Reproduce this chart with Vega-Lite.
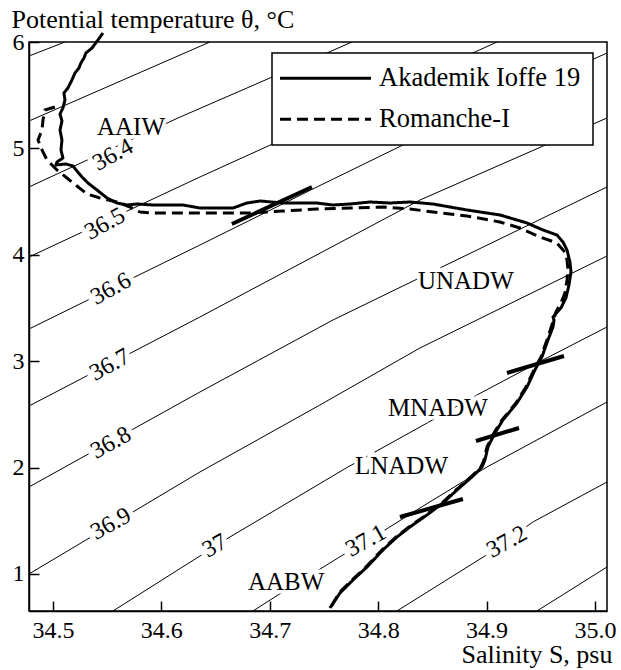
{
"$schema":"https://vega.github.io/schema/vega-lite/v6.json",
"width":578,"height":569,
"autosize":{"type":"none"},
"padding":{"left":29,"top":42,"right":14,"bottom":59},
"background":"white",
"config":{"font":"Liberation Serif","view":{"stroke":"black","strokeWidth":1.5},
"axis":{"grid":false,"domainColor":"black","domainWidth":1.5,"tickColor":"black","tickWidth":1.5,"tickSize":-10,"labelColor":"black","labelFontSize":24,"labelFont":"Liberation Serif","titleFont":"Liberation Serif","titleFontSize":26,"titleFontWeight":"normal","titleColor":"black"}},
"datasets":{
"iso":[
{"s":"36.2","S":34.4779,"T":5.8684},{"s":"36.2","S":34.5111,"T":6.0},
{"s":"36.3","S":34.4779,"T":5.2575},{"s":"36.3","S":34.6448,"T":6.0},
{"s":"36.4","S":34.4779,"T":4.6372},{"s":"36.4","S":34.6153,"T":5.2857},{"s":"36.4","S":34.7002,"T":5.6617},{"s":"36.4","S":34.7758,"T":6.0},
{"s":"36.5","S":34.4779,"T":3.9793},{"s":"36.5","S":34.6356,"T":4.7312},{"s":"36.5","S":34.9096,"T":6.0},
{"s":"36.6","S":34.4779,"T":3.3026},{"s":"36.6","S":34.6356,"T":4.0921},{"s":"36.6","S":34.7435,"T":4.6372},{"s":"36.6","S":34.8229,"T":5.032},{"s":"36.6","S":35.0111,"T":5.8966},
{"s":"36.7","S":34.4779,"T":2.5789},{"s":"36.7","S":34.6356,"T":3.4154},{"s":"36.7","S":34.8386,"T":4.515},{"s":"36.7","S":35.0111,"T":5.2857},
{"s":"36.8","S":34.4779,"T":1.8177},{"s":"36.8","S":34.6356,"T":2.7105},{"s":"36.8","S":34.7583,"T":3.3872},{"s":"36.8","S":34.857,"T":3.8759},{"s":"36.8","S":35.0111,"T":4.6372},
{"s":"36.9","S":34.4779,"T":1.0},{"s":"36.9","S":34.6356,"T":1.9586},{"s":"36.9","S":34.7463,"T":2.5883},{"s":"36.9","S":34.8386,"T":3.1241},{"s":"36.9","S":35.0111,"T":3.9887},
{"s":"37","S":34.5554,"T":0.652},{"s":"37","S":34.6633,"T":1.3477},{"s":"37","S":34.7721,"T":2.0056},{"s":"37","S":34.8386,"T":2.3816},{"s":"37","S":34.8911,"T":2.6823},{"s":"37","S":34.952,"T":3.0113},{"s":"37","S":35.0111,"T":3.3214},
{"s":"37.1","S":34.6845,"T":0.652},{"s":"37.1","S":34.7076,"T":0.8026},{"s":"37.1","S":34.7675,"T":1.1786},{"s":"37.1","S":34.8063,"T":1.4135},{"s":"37.1","S":34.8386,"T":1.6203},{"s":"37.1","S":34.9004,"T":2.0056},{"s":"37.1","S":35.0111,"T":2.6165},
{"s":"37.2","S":34.8173,"T":0.652},{"s":"37.2","S":34.8985,"T":1.1692},{"s":"37.2","S":34.9428,"T":1.4887},{"s":"37.2","S":35.0111,"T":1.8647},
{"s":"37.3","S":34.9465,"T":0.652},{"s":"37.3","S":35.0111,"T":1.0658}
],
"labs":[
{"t":"36.4","S":34.5554,"T":4.938},
{"t":"36.5","S":34.548,"T":4.2895},
{"t":"36.6","S":34.5535,"T":3.6786},
{"t":"36.7","S":34.5526,"T":2.9643},
{"t":"36.8","S":34.5535,"T":2.2312},
{"t":"36.9","S":34.5535,"T":1.4699},
{"t":"37","S":34.6494,"T":1.2632},
{"t":"37.1","S":34.7887,"T":1.3102},
{"t":"37.2","S":34.9188,"T":1.3008}
],
"wm":[
{"t":"AAIW","S":34.5406,"T":5.2011},
{"t":"UNADW","S":34.8367,"T":3.7538},
{"t":"MNADW","S":34.809,"T":2.5602},
{"t":"LNADW","S":34.7786,"T":2.015},
{"t":"AABW","S":34.6799,"T":0.9248}
],
"mk":[
{"S":34.6651,"T":4.2895,"S2":34.7389,"T2":4.6372},
{"S":34.9188,"T":2.8891,"S2":34.9714,"T2":3.0489},
{"S":34.8902,"T":2.25,"S2":34.9299,"T2":2.3722},
{"S":34.8201,"T":1.5357,"S2":34.8782,"T2":1.7049}
],
"prof":[
{"c":"Akademik Ioffe 19","i":1,"S":34.5461,"T":6.0846},
{"c":"Akademik Ioffe 19","i":2,"S":34.5415,"T":6.0188},
{"c":"Akademik Ioffe 19","i":3,"S":34.536,"T":5.9436},
{"c":"Akademik Ioffe 19","i":4,"S":34.5304,"T":5.8966},
{"c":"Akademik Ioffe 19","i":5,"S":34.5286,"T":5.8496},
{"c":"Akademik Ioffe 19","i":6,"S":34.5258,"T":5.8026},
{"c":"Akademik Ioffe 19","i":7,"S":34.524,"T":5.7556},
{"c":"Akademik Ioffe 19","i":8,"S":34.5203,"T":5.7086},
{"c":"Akademik Ioffe 19","i":9,"S":34.5175,"T":5.6429},
{"c":"Akademik Ioffe 19","i":10,"S":34.5138,"T":5.5677},
{"c":"Akademik Ioffe 19","i":11,"S":34.5101,"T":5.5207},
{"c":"Akademik Ioffe 19","i":12,"S":34.5111,"T":5.4549},
{"c":"Akademik Ioffe 19","i":13,"S":34.5092,"T":5.3797},
{"c":"Akademik Ioffe 19","i":14,"S":34.5065,"T":5.3233},
{"c":"Akademik Ioffe 19","i":15,"S":34.5083,"T":5.2575},
{"c":"Akademik Ioffe 19","i":16,"S":34.5065,"T":5.1729},
{"c":"Akademik Ioffe 19","i":17,"S":34.5083,"T":5.0789},
{"c":"Akademik Ioffe 19","i":18,"S":34.5074,"T":4.985},
{"c":"Akademik Ioffe 19","i":19,"S":34.5092,"T":4.9098},
{"c":"Akademik Ioffe 19","i":20,"S":34.5037,"T":4.8722},
{"c":"Akademik Ioffe 19","i":21,"S":34.5028,"T":4.844},
{"c":"Akademik Ioffe 19","i":22,"S":34.512,"T":4.8534},
{"c":"Akademik Ioffe 19","i":23,"S":34.5185,"T":4.8346},
{"c":"Akademik Ioffe 19","i":24,"S":34.5221,"T":4.7876},
{"c":"Akademik Ioffe 19","i":25,"S":34.5268,"T":4.7312},
{"c":"Akademik Ioffe 19","i":26,"S":34.5323,"T":4.6748},
{"c":"Akademik Ioffe 19","i":27,"S":34.5406,"T":4.609},
{"c":"Akademik Ioffe 19","i":28,"S":34.5498,"T":4.5338},
{"c":"Akademik Ioffe 19","i":29,"S":34.559,"T":4.4868},
{"c":"Akademik Ioffe 19","i":30,"S":34.5683,"T":4.468},
{"c":"Akademik Ioffe 19","i":31,"S":34.5775,"T":4.4774},
{"c":"Akademik Ioffe 19","i":32,"S":34.5923,"T":4.468},
{"c":"Akademik Ioffe 19","i":33,"S":34.6079,"T":4.468},
{"c":"Akademik Ioffe 19","i":34,"S":34.6199,"T":4.468},
{"c":"Akademik Ioffe 19","i":35,"S":34.6356,"T":4.4398},
{"c":"Akademik Ioffe 19","i":36,"S":34.6661,"T":4.4398},
{"c":"Akademik Ioffe 19","i":37,"S":34.679,"T":4.4868},
{"c":"Akademik Ioffe 19","i":38,"S":34.691,"T":4.5056},
{"c":"Akademik Ioffe 19","i":39,"S":34.7122,"T":4.4868},
{"c":"Akademik Ioffe 19","i":40,"S":34.7435,"T":4.4868},
{"c":"Akademik Ioffe 19","i":41,"S":34.7583,"T":4.468},
{"c":"Akademik Ioffe 19","i":42,"S":34.774,"T":4.4774},
{"c":"Akademik Ioffe 19","i":43,"S":34.7924,"T":4.4962},
{"c":"Akademik Ioffe 19","i":44,"S":34.8109,"T":4.4868},
{"c":"Akademik Ioffe 19","i":45,"S":34.8293,"T":4.4962},
{"c":"Akademik Ioffe 19","i":46,"S":34.8506,"T":4.4774},
{"c":"Akademik Ioffe 19","i":47,"S":34.8819,"T":4.4211},
{"c":"Akademik Ioffe 19","i":48,"S":34.9124,"T":4.3741},
{"c":"Akademik Ioffe 19","i":49,"S":34.9373,"T":4.2989},
{"c":"Akademik Ioffe 19","i":50,"S":34.952,"T":4.2331},
{"c":"Akademik Ioffe 19","i":51,"S":34.9649,"T":4.1861},
{"c":"Akademik Ioffe 19","i":52,"S":34.9705,"T":4.1203},
{"c":"Akademik Ioffe 19","i":53,"S":34.9742,"T":4.0451},
{"c":"Akademik Ioffe 19","i":54,"S":34.9769,"T":3.9323},
{"c":"Akademik Ioffe 19","i":55,"S":34.9779,"T":3.8383},
{"c":"Akademik Ioffe 19","i":56,"S":34.976,"T":3.7162},
{"c":"Akademik Ioffe 19","i":57,"S":34.9732,"T":3.594},
{"c":"Akademik Ioffe 19","i":58,"S":34.9686,"T":3.5},
{"c":"Akademik Ioffe 19","i":59,"S":34.9613,"T":3.4154},
{"c":"Akademik Ioffe 19","i":60,"S":34.9622,"T":3.3872},
{"c":"Akademik Ioffe 19","i":61,"S":34.9613,"T":3.3214},
{"c":"Akademik Ioffe 19","i":62,"S":34.9566,"T":3.1992},
{"c":"Akademik Ioffe 19","i":63,"S":34.9511,"T":3.0395},
{"c":"Akademik Ioffe 19","i":64,"S":34.9446,"T":2.9173},
{"c":"Akademik Ioffe 19","i":65,"S":34.9373,"T":2.7575},
{"c":"Akademik Ioffe 19","i":66,"S":34.928,"T":2.6071},
{"c":"Akademik Ioffe 19","i":67,"S":34.9151,"T":2.4474},
{"c":"Akademik Ioffe 19","i":68,"S":34.9077,"T":2.3252},
{"c":"Akademik Ioffe 19","i":69,"S":34.9013,"T":2.1936},
{"c":"Akademik Ioffe 19","i":70,"S":34.8985,"T":2.0714},
{"c":"Akademik Ioffe 19","i":71,"S":34.8958,"T":2.0056},
{"c":"Akademik Ioffe 19","i":72,"S":34.8875,"T":1.9211},
{"c":"Akademik Ioffe 19","i":73,"S":34.8727,"T":1.7895},
{"c":"Akademik Ioffe 19","i":74,"S":34.8598,"T":1.6673},
{"c":"Akademik Ioffe 19","i":75,"S":34.845,"T":1.5545},
{"c":"Akademik Ioffe 19","i":76,"S":34.8293,"T":1.4417},
{"c":"Akademik Ioffe 19","i":77,"S":34.8173,"T":1.3477},
{"c":"Akademik Ioffe 19","i":78,"S":34.8044,"T":1.2256},
{"c":"Akademik Ioffe 19","i":79,"S":34.7897,"T":1.0658},
{"c":"Akademik Ioffe 19","i":80,"S":34.7768,"T":0.9436},
{"c":"Akademik Ioffe 19","i":81,"S":34.7648,"T":0.8214},
{"c":"Akademik Ioffe 19","i":82,"S":34.7555,"T":0.6805},
{"c":"Romanche-I","i":1,"S":34.5018,"T":5.3891},
{"c":"Romanche-I","i":2,"S":34.4926,"T":5.3609},
{"c":"Romanche-I","i":3,"S":34.4908,"T":5.2669},
{"c":"Romanche-I","i":4,"S":34.4899,"T":5.1729},
{"c":"Romanche-I","i":5,"S":34.4862,"T":5.0789},
{"c":"Romanche-I","i":6,"S":34.4899,"T":4.985},
{"c":"Romanche-I","i":7,"S":34.4945,"T":4.891},
{"c":"Romanche-I","i":8,"S":34.5037,"T":4.797},
{"c":"Romanche-I","i":9,"S":34.5129,"T":4.7218},
{"c":"Romanche-I","i":10,"S":34.5221,"T":4.6466},
{"c":"Romanche-I","i":11,"S":34.5314,"T":4.5714},
{"c":"Romanche-I","i":12,"S":34.5434,"T":4.5338},
{"c":"Romanche-I","i":13,"S":34.559,"T":4.4962},
{"c":"Romanche-I","i":14,"S":34.571,"T":4.4492},
{"c":"Romanche-I","i":15,"S":34.5803,"T":4.4023},
{"c":"Romanche-I","i":16,"S":34.5923,"T":4.3929},
{"c":"Romanche-I","i":17,"S":34.6236,"T":4.3929},
{"c":"Romanche-I","i":18,"S":34.6661,"T":4.3929},
{"c":"Romanche-I","i":19,"S":34.6817,"T":4.3929},
{"c":"Romanche-I","i":20,"S":34.7122,"T":4.4117},
{"c":"Romanche-I","i":21,"S":34.7435,"T":4.4305},
{"c":"Romanche-I","i":22,"S":34.774,"T":4.4398},
{"c":"Romanche-I","i":23,"S":34.8044,"T":4.4492},
{"c":"Romanche-I","i":24,"S":34.8293,"T":4.4305},
{"c":"Romanche-I","i":25,"S":34.8506,"T":4.4023},
{"c":"Romanche-I","i":26,"S":34.8819,"T":4.3647},
{"c":"Romanche-I","i":27,"S":34.9124,"T":4.3083},
{"c":"Romanche-I","i":28,"S":34.9308,"T":4.2519},
{"c":"Romanche-I","i":29,"S":34.9493,"T":4.1673},
{"c":"Romanche-I","i":30,"S":34.9649,"T":4.1109},
{"c":"Romanche-I","i":31,"S":34.9723,"T":4.0263},
{"c":"Romanche-I","i":32,"S":34.9742,"T":3.9511},
{"c":"Romanche-I","i":33,"S":34.9751,"T":3.8571},
{"c":"Romanche-I","i":34,"S":34.9742,"T":3.7632},
{"c":"Romanche-I","i":35,"S":34.9723,"T":3.641},
{"c":"Romanche-I","i":36,"S":34.9686,"T":3.547},
{"c":"Romanche-I","i":37,"S":34.964,"T":3.4624},
{"c":"Romanche-I","i":38,"S":34.9603,"T":3.3402},
{"c":"Romanche-I","i":39,"S":34.9557,"T":3.1992},
{"c":"Romanche-I","i":40,"S":34.9502,"T":3.0395},
{"c":"Romanche-I","i":41,"S":34.9437,"T":2.9173},
{"c":"Romanche-I","i":42,"S":34.9363,"T":2.7575},
{"c":"Romanche-I","i":43,"S":34.9271,"T":2.6071},
{"c":"Romanche-I","i":44,"S":34.9142,"T":2.4474},
{"c":"Romanche-I","i":45,"S":34.9068,"T":2.3252},
{"c":"Romanche-I","i":46,"S":34.9004,"T":2.1936},
{"c":"Romanche-I","i":47,"S":34.8976,"T":2.0714},
{"c":"Romanche-I","i":48,"S":34.8948,"T":2.0056},
{"c":"Romanche-I","i":49,"S":34.8865,"T":1.9211},
{"c":"Romanche-I","i":50,"S":34.8718,"T":1.7895},
{"c":"Romanche-I","i":51,"S":34.8589,"T":1.6673},
{"c":"Romanche-I","i":52,"S":34.8441,"T":1.5545},
{"c":"Romanche-I","i":53,"S":34.8284,"T":1.4417},
{"c":"Romanche-I","i":54,"S":34.8164,"T":1.3477},
{"c":"Romanche-I","i":55,"S":34.8035,"T":1.2256},
{"c":"Romanche-I","i":56,"S":34.7887,"T":1.0658},
{"c":"Romanche-I","i":57,"S":34.7758,"T":0.9436},
{"c":"Romanche-I","i":58,"S":34.7638,"T":0.8214},
{"c":"Romanche-I","i":59,"S":34.7555,"T":0.6711}
]
},
"encoding":{
"x":{"field":"S","type":"quantitative","scale":{"domain":[34.4779,35.0111],"nice":false,"zero":false},
"axis":{"values":[34.5,34.6,34.7,34.8,34.9,35.0],"format":".1f","labelFlush":false,"labelPadding":17,"title":"Salinity S, psu","titleAlign":"right","titleBaseline":"alphabetic","titleX":583,"titleY":51}},
"y":{"field":"T","type":"quantitative","scale":{"domain":[0.652,6],"nice":false,"zero":false},
"axis":{"values":[1,2,3,4,5,6],"labelFlush":false,"labelPadding":15,"title":"Potential temperature θ, °C","titleAngle":0,"titleAlign":"left","titleBaseline":"alphabetic","titleX":-18,"titleY":-15}}
},
"layer":[
{"data":{"name":"iso"},"mark":{"type":"line","color":"black","strokeWidth":1,"clip":true},"encoding":{"detail":{"field":"s"}}},
{"data":{"name":"labs"},"mark":{"type":"text","angle":331,"fontSize":24,"font":"Liberation Serif","stroke":"white","strokeWidth":10,"strokeOpacity":1,"fill":"white","align":"center","baseline":"middle"},"encoding":{"text":{"field":"t"}}},
{"data":{"name":"labs"},"mark":{"type":"text","angle":331,"fontSize":24,"font":"Liberation Serif","fill":"black","align":"center","baseline":"middle"},"encoding":{"text":{"field":"t"}}},
{"data":{"name":"wm"},"mark":{"type":"text","fontSize":25,"font":"Liberation Serif","stroke":"white","strokeWidth":7,"strokeOpacity":1,"fill":"white","align":"left","baseline":"middle"},"encoding":{"text":{"field":"t"}}},
{"data":{"name":"wm"},"mark":{"type":"text","fontSize":25,"font":"Liberation Serif","fill":"black","align":"left","baseline":"middle"},"encoding":{"text":{"field":"t"}}},
{"data":{"name":"mk"},"mark":{"type":"rule","color":"black","strokeWidth":4},"encoding":{"x2":{"field":"S2"},"y2":{"field":"T2"}}},
{"data":{"name":"prof"},"mark":{"type":"line","color":"black","strokeWidth":3,"clip":false,"strokeJoin":"round"},
"encoding":{"order":{"field":"i","type":"quantitative"},
"strokeDash":{"field":"c","type":"nominal","scale":{"domain":["Akademik Ioffe 19","Romanche-I"],"range":[[1,0],[11,6]]},
"legend":{"orient":"none","legendX":243,"legendY":11,"title":null,"symbolType":"M-9.1,0H9.1","symbolSize":100,"symbolStrokeWidth":3,"symbolStrokeColor":"black","symbolFillColor":"transparent","labelFontSize":26.5,"labelFont":"Liberation Serif","labelColor":"black","labelLimit":400,"padding":12,"rowPadding":14,"symbolOffset":28.25,"labelOffset":40.25,"strokeColor":"black","fillColor":"white","encode":{"legend":{"update":{"strokeWidth":{"value":1.5}}}}}}}}
]
}
